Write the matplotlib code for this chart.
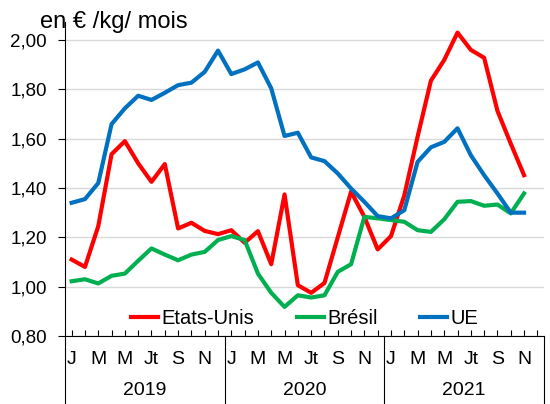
import numpy as np
import matplotlib
matplotlib.use('Agg')
import matplotlib.pyplot as plt

plt.rcParams['font.family'] = ['Liberation Sans', 'DejaVu Sans']

# monthly prices, Jan 2019 -> Nov 2021
etats_unis = [1.11, 1.08, 1.245, 1.537, 1.59, 1.50, 1.425, 1.497, 1.236, 1.259, 1.226, 1.213,
              1.229, 1.178, 1.225, 1.091, 1.374, 1.006, 0.975, 1.015, 1.20, 1.385, 1.283, 1.151,
              1.205, 1.37, 1.608, 1.835, 1.919, 2.03, 1.96, 1.928, 1.713, 1.58, 1.452]
bresil = [1.022, 1.030, 1.013, 1.044, 1.053, 1.105, 1.155, 1.130, 1.107, 1.130, 1.141, 1.189,
          1.205, 1.189, 1.053, 0.975, 0.918, 0.965, 0.956, 0.965, 1.060, 1.091, 1.283, 1.277,
          1.270, 1.263, 1.229, 1.222, 1.273, 1.344, 1.347, 1.328, 1.333, 1.297, 1.378]
ue = [1.34, 1.355, 1.42, 1.659, 1.723, 1.774, 1.757, 1.786, 1.817, 1.827, 1.871, 1.957,
      1.862, 1.881, 1.909, 1.804, 1.611, 1.624, 1.524, 1.509, 1.459, 1.398, 1.344, 1.286,
      1.277, 1.31, 1.506, 1.565, 1.587, 1.642, 1.533, 1.452, 1.378, 1.30, 1.30]
mois = ['J', 'M', 'M', 'Jt', 'S', 'N']
annees = ['2019', '2020', '2021']

x = np.arange(len(ue))

fig = plt.figure(figsize=(5.5, 4.04), dpi=100)
ax = fig.add_axes([65/550, 1-336/404, (544-65)/550, (336-22)/404])

ax.plot(x, etats_unis, color='#FF0000', lw=3, label='Etats-Unis')
ax.plot(x, bresil, color='#00B050', lw=3, label='Brésil')
ax.plot(x, ue, color='#0070C0', lw=3, label='UE')

ax.set_xlim(-0.5, 35.5)
ax.set_ylim(0.8, 2.073)
ax.set_yticks(np.arange(0.8, 2.01, 0.2))
ax.set_yticklabels([f'{v:.2f}'.replace('.', ',') for v in np.arange(0.8, 2.01, 0.2)])
ax.yaxis.grid(True, color='#D9D9D9', lw=1)
ax.set_axisbelow(True)
ax.tick_params(axis='y', direction='out', length=5, pad=8, labelsize=13.5)
ax.set_xticks(np.arange(36))
ax.set_xticklabels([])
ax.tick_params(axis='x', direction='in', length=4)
for s in ['top', 'right']:
    ax.spines[s].set_visible(False)

# category labels below the axis
for y in range(3):
    for k, m in enumerate(mois):
        ax.text(y*12 + k*2, -0.076, m, transform=ax.get_xaxis_transform(),
                ha='center', va='center', fontsize=14)
    ax.text(y*12 + 5.5, -0.174, annees[y], transform=ax.get_xaxis_transform(),
            ha='center', va='center', fontsize=14)
for xs in [-0.5, 11.5, 23.5, 35.5]:
    ax.plot([xs, xs], [0, -0.22], transform=ax.get_xaxis_transform(),
            color='black', lw=0.8, clip_on=False)

ax.text(-0.053, 1.0, 'en € /kg/ mois', transform=ax.transAxes, ha='left', va='center',
        fontsize=17)

ax.legend(loc='center', bbox_to_anchor=(0.5, 0.057), ncol=3, frameon=False,
          fontsize=14.5, handlelength=1.35, handletextpad=0.16, columnspacing=2.1)

fig.savefig('out.png', dpi=100)
